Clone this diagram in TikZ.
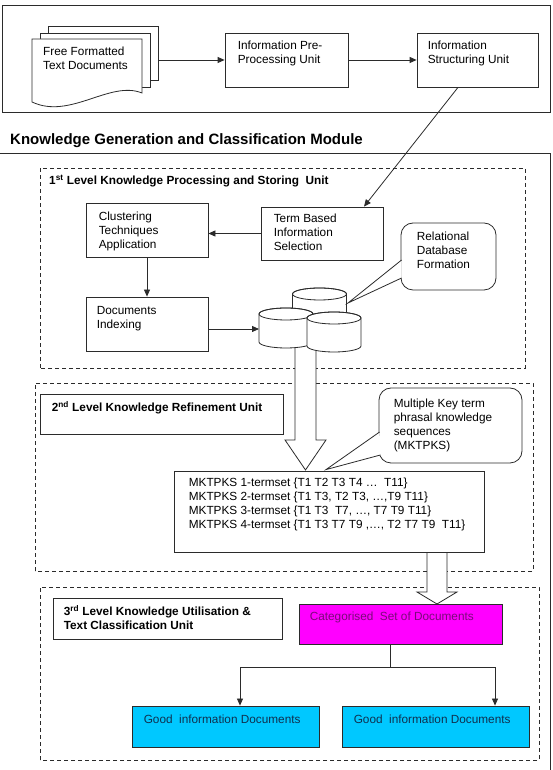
\documentclass[tikz,border=0pt]{standalone}
\usepackage{fontspec}
\setmainfont{Liberation Sans}
\usepackage{tikz}
\usetikzlibrary{arrows.meta, positioning}
\definecolor{linegray}{HTML}{2B2B2B}
\definecolor{magentabox}{HTML}{FF00FF}
\definecolor{plumtext}{HTML}{7A0A7A}
\definecolor{cyanbox}{HTML}{00C8FF}
\definecolor{navytext}{HTML}{10304F}

\begin{document}
\begin{tikzpicture}[x=1pt, y=1pt,
    box/.style={draw=linegray, line width=0.8pt, fill=white, inner sep=0pt},
    txt/.style={anchor=base west, inner sep=0pt, align=left, font=\fontsize{11.8}{14}\selectfont},
    head/.style={anchor=base west, inner sep=0pt, align=left, font=\fontsize{11.8}{13.5}\selectfont\bfseries},
    unit/.style={draw=linegray, line width=0.8pt, dash pattern=on 4pt off 3pt},
    arr/.style={draw=linegray, line width=0.8pt, -{Triangle[length=7pt, width=6pt]}},
    callout/.style={box, rounded corners=12pt},
    blockarrow/.style={draw=linegray, line width=0.8pt, fill=white}
]
    \useasboundingbox (0,0) rectangle (552,770);

    % Input module
    \draw[box] (2,658) rectangle (550,765);
    \node[box, minimum width=110, minimum height=54] (pg3) at (103,717) {};
    \node[box, minimum width=110, minimum height=54] (pg2) at (95,710) {};
    \draw[box] (32,731) -- (142,731) -- (142,677) .. controls (110,690) and (70,650) .. (32,668) -- cycle;
    \node[txt] (docs) at (43,700) {Free Formatted\\Text Documents};

    \node[box, minimum width=123, minimum height=54] (pre) at (286.5,710) {};
    \node[txt, xshift=13pt, yshift=-31pt] (pre-t) at (pre.north west) {Information Pre-\\Processing Unit};
    \node[box, minimum width=121, minimum height=54] (struct) at (477.5,710) {};
    \node[txt, xshift=11pt, yshift=-31pt] (struct-t) at (struct.north west) {Information\\Structuring Unit};

    \draw[arr] (pg3.east |- pre.west) -- (pre.west);
    \draw[arr] (pre.east) -- (struct.west);

    % Module title and frame
    \node[anchor=base west, inner sep=0pt, font=\fontsize{15}{18}\selectfont\bfseries] (title) at (10,625.5) {Knowledge Generation and Classification Module};
    \draw[linegray, line width=0.8pt] (0,617) -- (550,617) -- (550,0);

    % Unit frames
    \draw[unit] (40,402) rectangle (525,602);
    \draw[unit] (35,199) rectangle (533,387);
    \draw[unit] (40,10) rectangle (539,183);

    % 1st level unit
    \node[head] (lvl1) at (49,585) {1\textsuperscript{st} Level Knowledge Processing and Storing~ Unit};

    \node[box, minimum width=122, minimum height=54] (clust) at (147,540) {};
    \node[txt, xshift=13pt, yshift=-46pt] (clust-t) at (clust.north west) {Clustering\\Techniques\\Application};
    \node[box, minimum width=122, minimum height=53] (term) at (322,536.5) {};
    \node[txt, xshift=13pt, yshift=-44pt] (term-t) at (term.north west) {Term Based\\Information\\Selection};
    \node[box, minimum width=122, minimum height=54] (idx) at (147,446) {};
    \node[txt, xshift=11pt, yshift=-32pt] (idx-t) at (idx.north west) {Documents\\Indexing};

    \draw[arr] ([xshift=-19.5pt]struct.south) -- ([xshift=42pt]term.north);
    \draw[arr] (term.west) -- (clust.east |- term.west);
    \draw[arr] (clust) -- (idx);

    % Block arrows between units
    \draw[blockarrow] (295,430) -- (295,330) -- (285,330) -- (305.5,300) -- (326,330) -- (316,330) -- (316,430);
    \draw[blockarrow] (427,218) -- (427,178) -- (417,178) -- (437,166) -- (457,178) -- (447,178) -- (447,218);

    % Relational database
    \foreach \cx/\ct/\cb in {319.5/476/440, 286/456/428, 334/452/424} {
        \draw[box] (\cx-27,\ct) -- (\cx-27,\cb) arc[start angle=180, end angle=360, x radius=27, y radius=6]
            -- (\cx+27,\ct) arc[start angle=0, end angle=180, x radius=27, y radius=6] -- cycle;
        \draw[linegray, line width=0.8pt] (\cx,\ct) ellipse[x radius=27, y radius=6];
    }
    \coordinate (dbin) at (259,441);
    \coordinate (dbtop) at (348,467);
    \draw[arr] (idx.east |- dbin) -- (dbin);

    \node[callout, minimum width=95, minimum height=67] (rdb) at (448.5,513.5) {};
    \draw[blockarrow] ([xshift=1pt, yshift=-3.5pt]rdb.west) -- (dbtop) -- ([xshift=1pt, yshift=-21.5pt]rdb.west);
    \node[txt, xshift=16pt, yshift=-46pt] (rdb-t) at (rdb.north west) {Relational\\Database\\Formation};

    % 2nd level unit
    \node[box, minimum width=243, minimum height=40] (lvl2) at (161.5,356) {};
    \node[head, xshift=12pt, yshift=-18pt] (lvl2-t) at (lvl2.north west) {2\textsuperscript{nd} Level Knowledge Refinement Unit};

    \node[box, minimum width=310, minimum height=81] (mk) at (329,258.5) {};
    \node[txt, xshift=15pt, yshift=-58pt] (mk-t) at (mk.north west) {MKTPKS 1-termset \{T1 T2 T3 T4 …~ T11\}\\
        MKTPKS 2-termset \{T1 T3, T2 T3, …,T9 T11\}\\
        MKTPKS 3-termset \{T1 T3~ T7, …, T7 T9 T11\}\\
        MKTPKS 4-termset \{T1 T3 T7 T9 ,…, T2 T7 T9~ T11\}};

    \node[callout, minimum width=143, minimum height=75] (seq) at (450.5,344.5) {};
    \draw[blockarrow] ([xshift=1pt, yshift=-6.5pt]seq.west) -- ([xshift=-3pt, yshift=1pt]mk.north) -- ([xshift=1.8pt, yshift=-29.5pt]seq.west);
    \node[txt, xshift=15pt, yshift=-62pt] (seq-t) at (seq.north west) {Multiple Key term\\phrasal knowledge\\sequences\\(MKTPKS)};

    % 3rd level unit
    \node[box, minimum width=229, minimum height=41] (lvl3) at (167.5,151.5) {};
    \node[head, xshift=11pt, yshift=-31.5pt] (lvl3-t) at (lvl3.north west) {3\textsuperscript{rd} Level Knowledge Utilisation \&\\Text Classification Unit};

    \node[box, fill=magentabox, minimum width=203, minimum height=40] (cat) at (400.5,146) {};
    \node[txt, text=plumtext, xshift=11pt, yshift=-17pt] (cat-t) at (cat.north west) {Categorised~ Set of Documents};

    \node[box, fill=cyanbox, minimum width=187, minimum height=41] (good1) at (225.5,43.5) {};
    \node[txt, text=navytext, xshift=12pt, yshift=-18pt] (good1-t) at (good1.north west) {Good~ information Documents};
    \node[box, fill=cyanbox, minimum width=187, minimum height=41] (good2) at (435.5,43.5) {};
    \node[txt, text=navytext, xshift=12pt, yshift=-18pt] (good2-t) at (good2.north west) {Good~ information Documents};

    \draw[arr] ([xshift=-10pt]cat.south) -- ++(0,-23) -| ([xshift=14.5pt]good1.north);
    \draw[arr] ([xshift=-10pt]cat.south) -- ++(0,-23) -| ([xshift=59.5pt]good2.north);

\end{tikzpicture}
\end{document}
